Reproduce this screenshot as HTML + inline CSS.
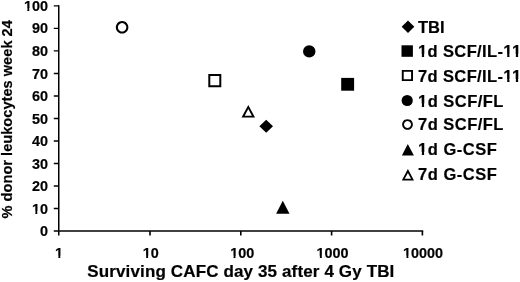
<!DOCTYPE html>
<html><head><meta charset="utf-8">
<style>
html,body{margin:0;padding:0;background:#fff;width:520px;height:282px;overflow:hidden}
svg{display:block;will-change:transform}
text{font-family:"Liberation Sans",sans-serif;font-weight:bold;fill:#000;stroke:#000;stroke-width:0.2px}
</style></head>
<body>
<svg width="520" height="282" viewBox="0 0 520 282">
<g stroke="#000" stroke-width="1.6" fill="none">
  <!-- y axis -->
  <line x1="58.75" y1="5.2" x2="58.75" y2="235.5" stroke-width="1.5"/>
  <!-- x axis -->
  <line x1="53.8" y1="231" x2="423.2" y2="231"/>
  <!-- y ticks -->
  <path stroke-width="1.4" d="M53.8 5.85H59M53.8 28.38H59M53.8 50.90H59M53.8 73.43H59M53.8 95.95H59M53.8 118.47H59M53.8 141.00H59M53.8 163.53H59M53.8 186.05H59M53.8 208.57H59"/>
  <!-- x ticks -->
  <path d="M150 231V235.5M240.8 231V235.5M331.6 231V235.5M422.4 231V235.5"/>
</g>
<g font-size="14.4" text-anchor="end">
  <text x="48" y="10.9">100</text>
  <text x="48" y="33.4">90</text>
  <text x="48" y="56">80</text>
  <text x="48" y="78.5">70</text>
  <text x="48" y="101.1">60</text>
  <text x="48" y="123.6">50</text>
  <text x="48" y="146.2">40</text>
  <text x="48" y="168.7">30</text>
  <text x="48" y="191.3">20</text>
  <text x="48" y="213.8">10</text>
  <text x="48" y="236.4">0</text>
</g>
<g font-size="14.4" text-anchor="middle">
  <text x="59" y="258.3">1</text>
  <text x="150.8" y="258.3">10</text>
  <text x="242.2" y="258.3">100</text>
  <text x="332.5" y="258.3">1000</text>
  <text x="423.1" y="258.3">10000</text>
</g>
<text x="87.3" y="277" font-size="17" textLength="307" lengthAdjust="spacing">Surviving CAFC day 35 after 4 Gy TBI</text>
<text transform="translate(12,119.3) rotate(-90)" text-anchor="middle" font-size="14.6" textLength="198.3" lengthAdjust="spacing">% donor leukocytes week 24</text>


<!-- data points -->
<g fill="#000" stroke="none">
  <circle cx="309.25" cy="51.4" r="6.2"/>
  <rect x="341.2" y="77.9" width="12.9" height="12.8"/>
  <path d="M266.2 119.8L273 126.3L266.2 132.8L259.4 126.3Z"/>
  <path d="M282.8 200.8L289.5 213.8L276.1 213.8Z"/>
  <!-- open markers as evenodd -->
  <path fill-rule="evenodd" d="M122.1 21A6.3 6.3 0 1 1 122.09 21ZM122.1 23.1A4.2 4.2 0 1 0 122.11 23.1Z"/>
  <path fill-rule="evenodd" d="M208.3 74H221.3V87.3H208.3ZM210.3 76H219.3V85.3H210.3Z"/>
  <path fill-rule="evenodd" d="M248.3 104.9L255 117.6L241.5 117.6ZM248.3 109L251.9 115.7L244.7 115.7Z"/>
</g>

<!-- legend -->
<g fill="#000" stroke="none">
  <path d="M408 20.6L414.3 26.85L408 33.1L401.7 26.85Z"/>
  <rect x="401.5" y="45.3" width="11.4" height="11.5"/>
  <circle cx="407.2" cy="100.5" r="5.6"/>
  <path d="M407.8 144L413.9 155.6L401.9 155.6Z"/>
  <path fill-rule="evenodd" d="M401.8 69.9H413V81.1H401.8ZM403.7 71.8H411.1V79.2H403.7Z"/>
  <path fill-rule="evenodd" d="M407.5 119.15A5.35 5.35 0 1 1 407.49 119.15ZM407.5 121A3.5 3.5 0 1 0 407.51 121Z"/>
  <path fill-rule="evenodd" d="M407.9 168.9L414 180.6L401.8 180.6ZM407.9 172.9L411.1 178.7L404.7 178.7Z"/>
</g>
<g font-size="16.5">
  <text x="418" y="32.6">TBI</text>
  <text x="418" y="57.1" textLength="103.2" lengthAdjust="spacing">1d SCF/IL-11</text>
  <text x="418" y="82" textLength="103.2" lengthAdjust="spacing">7d SCF/IL-11</text>
  <text x="418" y="106.5" textLength="85.4" lengthAdjust="spacing">1d SCF/FL</text>
  <text x="418" y="130.4" textLength="85.4" lengthAdjust="spacing">7d SCF/FL</text>
  <text x="418" y="154.8" textLength="78.9" lengthAdjust="spacing">1d G-CSF</text>
  <text x="418" y="179.7" textLength="78.9" lengthAdjust="spacing">7d G-CSF</text>
</g>
<!-- remove base serif of "1" (Helvetica style) -->
<g fill="#fff" stroke="none">
<path d="M23.86 8.23H27.35V12.10H23.86ZM29.32 8.23H32.19V12.10H29.32Z"/>
<path d="M31.86 211.13H35.35V215.00H31.86ZM37.32 211.13H40.19V215.00H37.32Z"/>
<path d="M54.87 255.63H58.35V259.50H54.87ZM60.33 255.63H63.20V259.50H60.33Z"/>
<path d="M142.67 255.63H146.15V259.50H142.67ZM148.13 255.63H151.00V259.50H148.13Z"/>
<path d="M230.07 255.63H233.55V259.50H230.07ZM235.53 255.63H238.40V259.50H235.53Z"/>
<path d="M316.37 255.63H319.85V259.50H316.37ZM321.83 255.63H324.70V259.50H321.83Z"/>
<path d="M402.96 255.63H406.45V259.50H402.96ZM408.42 255.63H411.29V259.50H408.42Z"/>
<path d="M417.99 54.22H421.85V58.30H417.99ZM424.11 54.22H427.32V58.30H424.11Z"/>
<path d="M503.35 54.22H507.21V58.30H503.35ZM509.48 54.22H512.68V58.30H509.48Z"/>
<path d="M512.00 54.22H515.86V58.30H512.00ZM518.13 54.22H521.33V58.30H518.13Z"/>
<path d="M503.35 79.12H507.21V83.20H503.35ZM509.48 79.12H512.68V83.20H509.48Z"/>
<path d="M512.00 79.12H515.86V83.20H512.00ZM518.13 79.12H521.33V83.20H518.13Z"/>
<path d="M417.99 103.62H421.85V107.70H417.99ZM424.11 103.62H427.32V107.70H424.11Z"/>
<path d="M417.99 151.92H421.85V156.00H417.99ZM424.11 151.92H427.32V156.00H424.11Z"/>
</g>
</svg>
</body></html>
